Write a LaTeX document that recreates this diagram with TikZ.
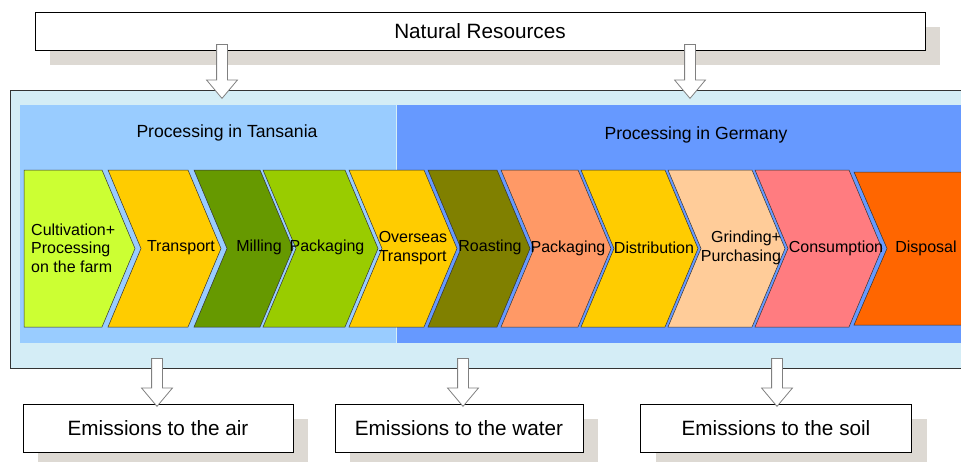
\documentclass[tikz,border=0pt]{standalone}
\usepackage{fontspec}
\setmainfont{Liberation Sans}
\usetikzlibrary{positioning, shapes.arrows, shadows}

\definecolor{shadowgray}{RGB}{221,217,211}
\definecolor{panelblue}{RGB}{212,237,246}
\definecolor{tzblue}{HTML}{99CCFF}
\definecolor{deblue}{HTML}{6699FF}
\definecolor{arrowgray}{HTML}{808080}
\definecolor{cultgreen}{HTML}{CCFF33}
\definecolor{transyellow}{HTML}{FFCC00}
\definecolor{millgreen}{HTML}{669900}
\definecolor{packgreen}{HTML}{99CC00}
\definecolor{roastolive}{HTML}{808000}
\definecolor{packsalmon}{HTML}{FF9966}
\definecolor{grindpeach}{HTML}{FFCC99}
\definecolor{conspink}{HTML}{FF7C80}
\definecolor{disporange}{HTML}{FF6600}

\begin{document}
\begin{tikzpicture}[
      x=1pt, y=-1pt,
      box/.style={
        rectangle,
        draw=black,
        line width=0.8pt,
        fill=white,
        font=\fontsize{20.7}{24}\selectfont,
        minimum height=38pt,
        general shadow={fill=shadowgray, shadow xshift=15pt, shadow yshift=-15pt}
      },
      band/.style={rectangle, inner sep=0pt, minimum height=238pt, anchor=north west},
      bandlabel/.style={font=\fontsize{17.6}{20}\selectfont},
      chev/.style={draw=black!80, line width=0.5pt, line join=miter},
      stage/.style={font=\fontsize{16}{18.5}\selectfont, inner sep=0pt},
      hollow/.style={
        single arrow,
        draw=arrowgray,
        fill=white,
        line width=0.8pt,
        shape border rotate=270,
        inner xsep=5pt, inner ysep=0pt,
        single arrow head extend=10pt,
        single arrow tip angle=80,
        anchor=tail
      }
    ]
    \useasboundingbox (0,0) rectangle (961,461);

    % frame and the two processing bands
    \node[rectangle, draw=black!80, line width=1pt, fill=panelblue, anchor=north west,
          minimum width=975pt, minimum height=278pt] (panel) at (10,90) {};
    \node[band, fill=tzblue, minimum width=376pt] (tz) at (20,105) {};
    \node[band, fill=deblue, minimum width=580pt] (de) at (tz.north east) {};
    \node[bandlabel] (tzlabel) at (227,133) {Processing in Tansania};
    \node[bandlabel] (delabel) at (696,135) {Processing in Germany};

    % value chain
    \filldraw[chev, fill=cultgreen] (24,170) -- (102,170) -- (135,248.5) -- (102,327) -- (24,327) -- cycle;
    \filldraw[chev, fill=transyellow] (108,170) -- (188,170) -- (221,248.5) -- (188,327) -- (108,327) -- (141,248.5) -- cycle;
    \filldraw[chev, fill=millgreen] (194,170) -- (260,170) -- (293,248.5) -- (260,327) -- (194,327) -- (227,248.5) -- cycle;
    \filldraw[chev, fill=packgreen] (263,170) -- (345,170) -- (378,248.5) -- (345,327) -- (263,327) -- (296,248.5) -- cycle;
    \filldraw[chev, fill=transyellow] (349,170) -- (424,170) -- (457,248.5) -- (424,327) -- (349,327) -- (382,248.5) -- cycle;
    \filldraw[chev, fill=roastolive] (428,170) -- (497,170) -- (530,248.5) -- (497,327) -- (428,327) -- (461,248.5) -- cycle;
    \filldraw[chev, fill=packsalmon] (501,170) -- (578,170) -- (611,248.5) -- (578,327) -- (501,327) -- (534,248.5) -- cycle;
    \filldraw[chev, fill=transyellow] (581,170) -- (665,170) -- (698,248.5) -- (665,327) -- (581,327) -- (614,248.5) -- cycle;
    \filldraw[chev, fill=grindpeach] (668,170) -- (752,170) -- (785,248.5) -- (752,327) -- (668,327) -- (701,248.5) -- cycle;
    \filldraw[chev, fill=conspink] (755,170) -- (849,170) -- (882,248.5) -- (849,327) -- (755,327) -- (788,248.5) -- cycle;
    \filldraw[chev, fill=disporange] (854,172) -- (990,172) -- (990,325) -- (854,325) -- (887,248.5) -- cycle;

    \node[stage, anchor=west, align=left] (cult) at (31,248) {Cultivation+\\Processing\\on the farm};
    \node[stage] (trans) at (181,248) {Transport};
    \node[stage] (mill) at (259,247) {Milling};
    \node[stage] (packtz) at (327,247) {Packaging};
    \node[stage, align=left] (oversea) at (413,248) {Overseas\\Transport};
    \node[stage] (roast) at (490,247) {Roasting};
    \node[stage] (packde) at (568,248) {Packaging};
    \node[stage] (distr) at (654,248) {Distribution};
    \node[stage, align=right] (grind) at (741,248) {Grinding+\\Purchasing};
    \node[stage] (cons) at (836,248) {Consumption};
    \node[stage] (disp) at (926,248) {Disposal};

    % inputs and outputs
    \node[box, minimum width=890pt] (nr) at (480,31) {Natural Resources};
    \node[box, minimum width=270pt, minimum height=48pt] (air) at (158,428) {Emissions to the air};
    \node[box, minimum width=248pt, minimum height=48pt] (water) at (459,428) {Emissions to the water};
    \node[box, minimum width=271pt, minimum height=48pt] (soil) at (776,428) {Emissions to the soil};

    \node[hollow, minimum height=54pt] (intz) at (222,44) {};
    \node[hollow, minimum height=54pt] (inde) at (690,44) {};
    \node[hollow, minimum height=48pt] (toair) at (157,358) {};
    \node[hollow, minimum height=48pt] (towater) at (463,358) {};
    \node[hollow, minimum height=48pt] (tosoil) at (777,358) {};
  \end{tikzpicture}
\end{document}
